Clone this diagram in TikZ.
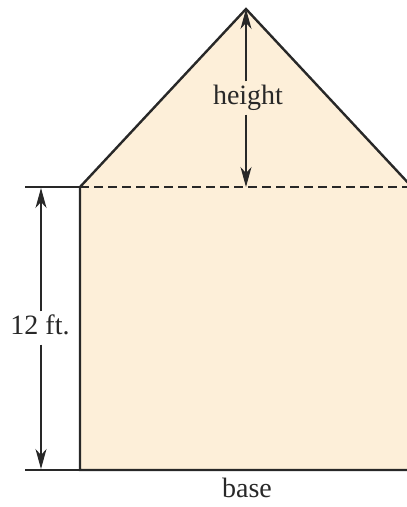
\documentclass[tikz,border=0pt]{standalone}
\usepackage{fontspec}
\setmainfont{Liberation Serif}
\usetikzlibrary{arrows.meta,positioning,calc}
\definecolor{wallfill}{RGB}{253,239,217}
\definecolor{edge}{RGB}{40,40,40}

\begin{document}
\begin{tikzpicture}[x=1pt, y=-1pt,
    dimline/.style={edge, line width=1.3pt, -{Stealth[length=20pt,width=11pt,inset=6pt]}},
    label/.style={font=\fontsize{28}{32}\selectfont, text=edge, text height=19pt, text depth=6pt, inner xsep=2pt, inner ysep=4pt}]
\useasboundingbox (0,0) rectangle (407,507);
\clip (0,0) rectangle (407,507);
\begin{scope}
    % corners of the house
    \coordinate (apex) at (246,9);
    \coordinate (eaveL) at (80,187);
    \coordinate (eaveR) at (412,187);
    \coordinate (footL) at (80,470);
    \coordinate (footR) at (412,470);
    \coordinate (eaveM) at (246,187);
    \fill[wallfill] (footL) -- (eaveL) -- (apex) -- (eaveR) -- (footR) -- cycle;
    \draw[edge, line width=2.4pt, line join=miter] (footR) -- (footL) -- (eaveL) -- (apex) -- (eaveR) -- (footR);
    \draw[edge, line width=1.3pt, dash pattern=on 9pt off 5pt] (eaveL) -- (eaveR);
    % height of the roof
    \node[label] (height) at (248,98) {height};
    \draw[dimline] (height.north -| apex) -- (apex);
    \draw[dimline] (height.south -| apex) -- (eaveM);
    % wall dimension
    \coordinate (tickT) at (25,187);
    \coordinate (tickB) at (25,470);
    \coordinate (wallT) at (41,188);
    \coordinate (wallB) at (41,469);
    \draw[edge, line width=1.3pt] (tickT) -- (eaveL);
    \draw[edge, line width=1.3pt] (tickB) -- (footL);
    \node[label] (wall) at (40,328) {12 ft.};
    \draw[dimline] (wall.north -| wallT) -- (wallT);
    \draw[dimline] (wall.south -| wallB) -- (wallB);
    \node[label] (base) at (247,491) {base};
\end{scope}
\end{tikzpicture}
\end{document}
